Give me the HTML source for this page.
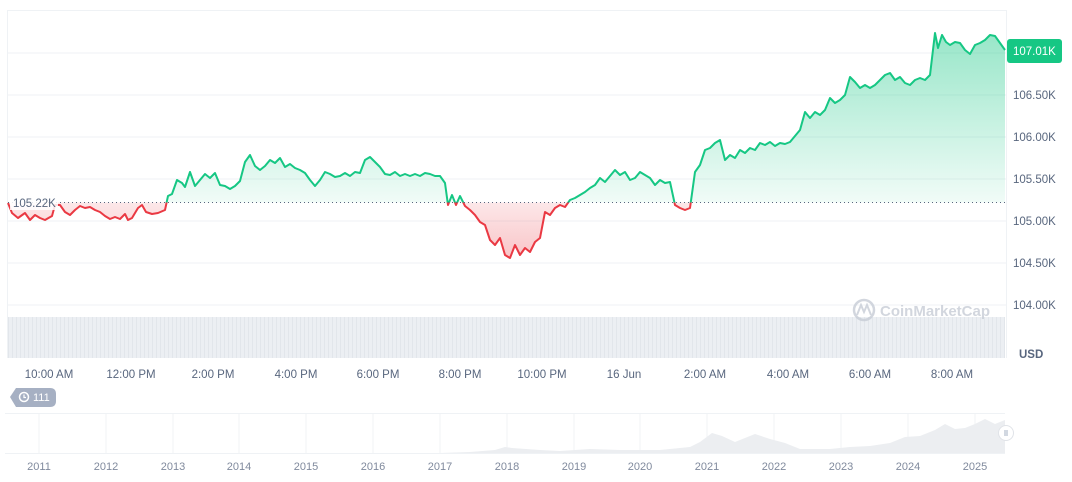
<!DOCTYPE html>
<html><head><meta charset="utf-8"><style>
body{margin:0;background:#fff;width:1072px;height:477px;overflow:hidden;font-family:"Liberation Sans",sans-serif}
</style></head><body>
<svg width="1072" height="477" xmlns="http://www.w3.org/2000/svg" font-family="Liberation Sans, sans-serif">
<defs>
<linearGradient id="gg" x1="0" y1="30" x2="0" y2="203" gradientUnits="userSpaceOnUse"><stop offset="0" stop-color="#16c784" stop-opacity="0.45"/><stop offset="1" stop-color="#16c784" stop-opacity="0.06"/></linearGradient>
<linearGradient id="rg" x1="0" y1="203" x2="0" y2="260" gradientUnits="userSpaceOnUse"><stop offset="0" stop-color="#ea3943" stop-opacity="0.12"/><stop offset="1" stop-color="#ea3943" stop-opacity="0.3"/></linearGradient>
<clipPath id="up"><rect x="0" y="0" width="1006" height="202.5"/></clipPath>
<clipPath id="dn"><rect x="0" y="202.5" width="1006" height="200"/></clipPath>
<pattern id="vp" width="4" height="40" patternUnits="userSpaceOnUse"><rect width="4" height="40" fill="#eceff3"/><rect width="1" height="40" fill="#e2e6eb"/></pattern>
<path id="ln" d="M8 203L12 213L18 218L25 213L30 220L35 215L40 218L45 220L52 216L55 205L60 205L65 212L70 215L75 210L80 206L85 208L90 207L95 210L100 212L105 216L110 219L115 217L120 219L125 214L128 220L132 218L138 208L142 205L146 212L152 214L158 213L165 210L168 196L172 194L177 180L182 183L185 187L190 172L195 186L200 180L205 174L210 178L215 173L220 185L225 186L230 189L235 186L240 181L245 162L250 155L255 166L260 170L265 166L270 160L275 163L280 158L285 167L290 164L295 168L300 170L305 173L310 180L315 186L320 180L325 172L330 174L335 177L340 176L345 173L350 176L355 172L360 173L365 160L370 157L375 162L380 167L385 174L390 175L395 172L400 176L405 174L410 176L415 174L420 176L425 173L430 174L435 176L440 176L445 183L448 205L452 195L456 205L460 196L465 206L470 210L475 215L480 222L485 225L490 240L495 245L500 238L505 255L510 258L515 245L520 255L525 248L530 252L535 242L540 238L545 212L550 215L555 208L560 205L565 207L570 200L575 198L580 195L585 192L590 188L595 185L600 178L605 182L610 176L615 170L620 175L625 172L630 180L635 178L640 172L645 175L650 178L655 185L660 180L665 183L670 182L675 205L680 208L685 210L690 208L695 172L700 165L705 150L710 148L715 143L720 140L725 160L730 155L735 158L740 150L745 153L750 148L755 150L760 143L765 145L770 142L775 146L780 143L785 144L790 142L795 136L800 130L805 112L810 118L815 112L820 115L825 110L830 98L835 103L840 100L845 95L850 77L855 82L860 88L865 85L870 88L875 85L880 80L885 75L890 73L895 80L900 77L905 83L910 85L915 80L920 78L925 80L930 75L935 33L938 48L942 35L946 42L950 45L955 42L960 43L965 50L970 54L975 45L980 43L985 40L990 35L995 36L1000 43L1005 50"/>
<path id="fl" d="M8 203L12 213L18 218L25 213L30 220L35 215L40 218L45 220L52 216L55 205L60 205L65 212L70 215L75 210L80 206L85 208L90 207L95 210L100 212L105 216L110 219L115 217L120 219L125 214L128 220L132 218L138 208L142 205L146 212L152 214L158 213L165 210L168 196L172 194L177 180L182 183L185 187L190 172L195 186L200 180L205 174L210 178L215 173L220 185L225 186L230 189L235 186L240 181L245 162L250 155L255 166L260 170L265 166L270 160L275 163L280 158L285 167L290 164L295 168L300 170L305 173L310 180L315 186L320 180L325 172L330 174L335 177L340 176L345 173L350 176L355 172L360 173L365 160L370 157L375 162L380 167L385 174L390 175L395 172L400 176L405 174L410 176L415 174L420 176L425 173L430 174L435 176L440 176L445 183L448 205L452 195L456 205L460 196L465 206L470 210L475 215L480 222L485 225L490 240L495 245L500 238L505 255L510 258L515 245L520 255L525 248L530 252L535 242L540 238L545 212L550 215L555 208L560 205L565 207L570 200L575 198L580 195L585 192L590 188L595 185L600 178L605 182L610 176L615 170L620 175L625 172L630 180L635 178L640 172L645 175L650 178L655 185L660 180L665 183L670 182L675 205L680 208L685 210L690 208L695 172L700 165L705 150L710 148L715 143L720 140L725 160L730 155L735 158L740 150L745 153L750 148L755 150L760 143L765 145L770 142L775 146L780 143L785 144L790 142L795 136L800 130L805 112L810 118L815 112L820 115L825 110L830 98L835 103L840 100L845 95L850 77L855 82L860 88L865 85L870 88L875 85L880 80L885 75L890 73L895 80L900 77L905 83L910 85L915 80L920 78L925 80L930 75L935 33L938 48L942 35L946 42L950 45L955 42L960 43L965 50L970 54L975 45L980 43L985 40L990 35L995 36L1000 43L1005 50L1005 202.5L8 202.5Z"/>
</defs>
<g stroke="#eff2f5" stroke-width="1">
<line x1="8" y1="10.5" x2="1006" y2="10.5"/><line x1="8" y1="53" x2="1006" y2="53"/><line x1="8" y1="95" x2="1006" y2="95"/><line x1="8" y1="137" x2="1006" y2="137"/><line x1="8" y1="179" x2="1006" y2="179"/><line x1="8" y1="221" x2="1006" y2="221"/><line x1="8" y1="263" x2="1006" y2="263"/><line x1="8" y1="305" x2="1006" y2="305"/>
<line x1="1006.5" y1="10" x2="1006.5" y2="358"/><line x1="7.5" y1="10" x2="7.5" y2="358"/>
</g>
<rect x="8" y="317" width="997" height="41" fill="url(#vp)"/>
<use href="#fl" fill="url(#gg)" clip-path="url(#up)"/>
<use href="#fl" fill="url(#rg)" clip-path="url(#dn)"/>
<use href="#ln" fill="none" stroke="#16c784" stroke-width="2" stroke-linejoin="round" clip-path="url(#up)"/>
<use href="#ln" fill="none" stroke="#ea3943" stroke-width="2" stroke-linejoin="round" clip-path="url(#dn)"/>
<line x1="8" y1="202.5" x2="1006" y2="202.5" stroke="#58667e" stroke-width="1" stroke-dasharray="1,3"/>
<rect x="10" y="195" width="48" height="15" fill="#fff" opacity="0.85"/>
<text x="13" y="207" font-size="11.5" fill="#58667e">105.22K</text>
<g font-size="11.5" fill="#58667e">
<text x="1013" y="99">106.50K</text><text x="1013" y="141">106.00K</text><text x="1013" y="183">105.50K</text><text x="1013" y="225">105.00K</text><text x="1013" y="267">104.50K</text><text x="1013" y="309">104.00K</text>
<text x="1019" y="358" font-weight="bold" font-size="11.5">USD</text>
</g>
<rect x="1007" y="39" width="55" height="24" rx="3" fill="#16c784"/>
<text x="1013" y="55" font-size="11.5" fill="#fff">107.01K</text>
<g opacity="0.8"><circle cx="864" cy="310" r="10" fill="none" stroke="#c7cdd6" stroke-width="2.5"/><path d="M857 315 L861 305 L864 312 L867 305 L871 315" fill="none" stroke="#c7cdd6" stroke-width="2"/>
<text x="880" y="316" font-size="15" font-weight="bold" fill="#c7cdd6">CoinMarketCap</text></g>
<g font-size="11.5" fill="#58667e" text-anchor="middle">
<text x="49" y="378">10:00 AM</text><text x="131" y="378">12:00 PM</text><text x="213" y="378">2:00 PM</text><text x="296" y="378">4:00 PM</text><text x="378" y="378">6:00 PM</text><text x="460" y="378">8:00 PM</text><text x="542" y="378">10:00 PM</text><text x="624" y="378">16 Jun</text><text x="705" y="378">2:00 AM</text><text x="788" y="378">4:00 AM</text><text x="870" y="378">6:00 AM</text><text x="952" y="378">8:00 AM</text>
</g>
<path d="M10 397 L16 388 L50 388 Q56 388 56 394 L56 401 Q56 407 50 407 L16 407 Z" fill="#a6b0c3"/>
<circle cx="24" cy="397" r="4.5" fill="none" stroke="#fff" stroke-width="1.5"/><path d="M24 394.5 V397.5 H26" stroke="#fff" fill="none" stroke-width="1.2"/>
<text x="33" y="401" font-size="11" fill="#fff">111</text>
<line x1="5" y1="413.5" x2="1005" y2="413.5" stroke="#eff2f5"/>
<line x1="5" y1="453.5" x2="1005" y2="453.5" stroke="#eff2f5"/>
<g stroke="#f1f3f5">
<line x1="39" y1="414" x2="39" y2="453"/><line x1="106" y1="414" x2="106" y2="453"/><line x1="173" y1="414" x2="173" y2="453"/><line x1="239" y1="414" x2="239" y2="453"/><line x1="306" y1="414" x2="306" y2="453"/><line x1="373" y1="414" x2="373" y2="453"/><line x1="440" y1="414" x2="440" y2="453"/><line x1="507" y1="414" x2="507" y2="453"/><line x1="574" y1="414" x2="574" y2="453"/><line x1="640" y1="414" x2="640" y2="453"/><line x1="707" y1="414" x2="707" y2="453"/><line x1="774" y1="414" x2="774" y2="453"/><line x1="841" y1="414" x2="841" y2="453"/><line x1="908" y1="414" x2="908" y2="453"/><line x1="975" y1="414" x2="975" y2="453"/>
</g>
<path d="M440 453 L470 452 L495 450 L505 447 L512 448 L540 450 L560 451 L590 449 L620 450 L660 450 L690 447 L700 442 L712 433 L722 436 L735 442 L745 438 L755 434 L770 439 L785 443 L800 449 L830 449 L850 447 L870 446 L890 443 L905 437 L920 436 L935 430 L945 424 L955 429 L965 428 L975 424 L985 419 L995 424 L1005 420 L1005 453 Z" fill="#eceef1"/>
<circle cx="1006" cy="433" r="7.5" fill="#fff" stroke="#e0e3e8"/>
<line x1="1005" y1="430" x2="1005" y2="436" stroke="#a6b0c3"/><line x1="1007" y1="430" x2="1007" y2="436" stroke="#a6b0c3"/>
<g font-size="11" fill="#808a9d" text-anchor="middle">
<text x="39" y="470">2011</text><text x="106" y="470">2012</text><text x="173" y="470">2013</text><text x="239" y="470">2014</text><text x="306" y="470">2015</text><text x="373" y="470">2016</text><text x="440" y="470">2017</text><text x="507" y="470">2018</text><text x="574" y="470">2019</text><text x="640" y="470">2020</text><text x="707" y="470">2021</text><text x="774" y="470">2022</text><text x="841" y="470">2023</text><text x="908" y="470">2024</text><text x="975" y="470">2025</text>
</g>
</svg>
</body></html>
